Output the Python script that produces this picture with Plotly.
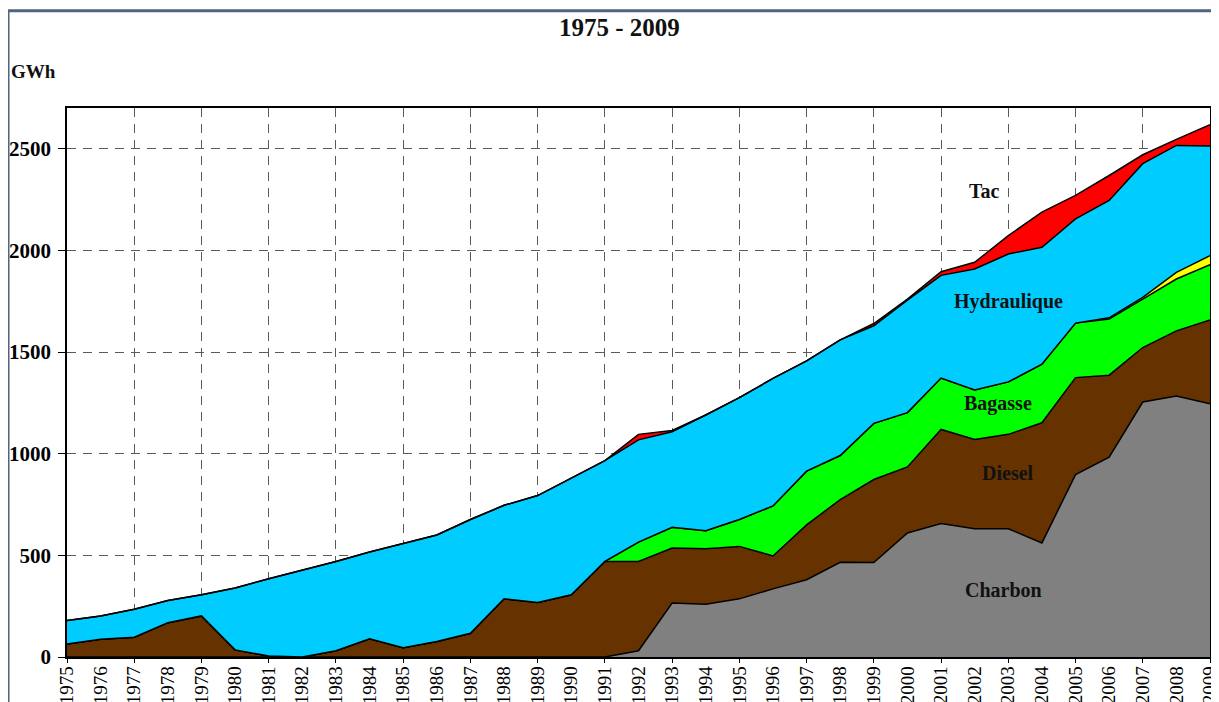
import plotly.graph_objs as go

# Production d'electricite par source, en GWh
years = list(range(1975, 2010))

charbon = [0, 0, 0, 0, 0, 0, 0, 0, 0, 0, 0, 0, 0, 0, 0, 0, 0,
           31, 265, 260, 286, 335, 380, 466, 465, 610, 656, 631, 631, 561, 897, 983, 1254, 1284, 1246]
diesel = [64, 87, 97, 169, 202, 35, 5, 0, 31, 90, 46, 76, 117, 286, 268, 306, 470,
          439, 271, 272, 258, 162, 270, 308, 408, 325, 463, 439, 464, 591, 477, 403, 268, 320, 412]
bagasse = [0, 0, 0, 0, 0, 0, 0, 0, 0, 0, 0, 0, 0, 0, 0, 0, 0,
           95, 102, 89, 132, 246, 264, 217, 276, 267, 253, 243, 258, 288, 268, 276, 238, 255, 272]
eolien_pv = [0, 0, 0, 0, 0, 0, 0, 0, 0, 0, 0, 0, 0, 0, 0, 0, 0,
             0, 0, 0, 0, 0, 0, 0, 0, 0, 0, 0, 0, 0, 0, 6, 9, 33, 44]
hydraulique = [115, 115, 138, 109, 104, 304, 380, 426, 439, 426, 512, 524, 559, 460, 526, 575, 496,
               503, 470, 569, 600, 627, 542, 569, 480, 553, 505, 595, 629, 575, 513, 577, 657, 624, 539]
tac = [0, 0, 0, 0, 0, 0, 0, 0, 0, 0, 0, 0, 0, 0, 0, 0, 0,
       27, 6, 0, 0, 0, 0, 0, 11, 5, 18, 33, 90, 173, 115, 123, 44, 30, 105]

series = [
    ('Charbon', charbon, '#808080'),
    ('Diesel', diesel, '#663300'),
    ('Bagasse', bagasse, '#00ff00'),
    ('Eolien / PV', eolien_pv, '#ffff00'),
    ('Hydraulique', hydraulique, '#00ccff'),
    ('Tac', tac, '#ff0000'),
]

# label positions (year, GWh) for the text written on the areas
labels = [
    ('Tac', 2002.3, 2290),
    ('Hydraulique', 2003.0, 1750),
    ('Bagasse', 2002.7, 1245),
    ('Diesel', 2003.0, 905),
    ('Charbon', 2002.85, 330),
]

serif = 'Liberation Serif'
grid = '#5a5a5a'

data = []
for name, values, color in series:
    trace = go.Scatter(x=years, y=values, name=name,
                       mode='lines', stackgroup='one',
                       line=dict(color='black', width=1.5),
                       fillcolor=color, hoverinfo='x+y+name')
    data.append(trace)

# the page body has an 8px margin, so the figure is a bit smaller than the window
layout = go.Layout(
    width=1211, height=694,
    margin=dict(l=59, r=9, t=100, b=45),
    paper_bgcolor='white', plot_bgcolor='white',
    showlegend=False,
    font=dict(family=serif, color='black'),
    xaxis=dict(range=[1975, 2009], tickmode='linear', tick0=1975, dtick=1,
               tickangle=-90, tickfont=dict(family=serif, size=19),
               ticklabelstandoff=0, ticklabeloverflow='allow',
               showgrid=False, ticks='', showline=True, linecolor='black',
               linewidth=1.5, mirror=True, automargin=False, zeroline=False),
    xaxis2=dict(range=[1975, 2009], overlaying='x', matches='x',
                tickmode='linear', tick0=1975, dtick=2,
                showticklabels=False, ticks='outside', ticklen=5,
                tickcolor='black', showgrid=True, gridcolor=grid,
                griddash='9px,7px', gridwidth=1, zeroline=False),
    yaxis=dict(range=[0, 2700], tickmode='linear', tick0=0, dtick=500,
               tickfont=dict(family=serif, size=21, weight='bold'),
               ticks='outside', ticklen=7, tickcolor='black',
               ticklabelstandoff=3,
               showgrid=True, gridcolor=grid, griddash='9px,7px', gridwidth=1,
               showline=True, linecolor='black', linewidth=1.5, mirror=True,
               zeroline=False, automargin=False),
    annotations=[dict(x=x, y=y, text='<b>%s</b>' % t, showarrow=False,
                      font=dict(family=serif, size=20, color='#111111'))
                 for t, x, y in labels] + [
        dict(text='<b>1975 - 2009</b>', xref='paper', yref='paper',
             x=0.483, y=1.1475, yanchor='middle', showarrow=False,
             font=dict(family=serif, size=25, color='#111111')),
        dict(text='<b>GWh</b>', xref='paper', yref='paper',
             x=-0.0505, y=1.0656, xanchor='left', yanchor='middle', showarrow=False,
             font=dict(family=serif, size=19, color='#111111')),
    ],
    shapes=[
        dict(type='line', xref='paper', yref='paper', x0=-0.0516, x1=1.01,
             y0=1.177, y1=1.177, line=dict(color='#4f6582', width=3)),
        dict(type='line', xref='paper', yref='paper', x0=-0.0516, x1=-0.0516,
             y0=1.177, y1=-0.1, line=dict(color='#4f6582', width=3)),
    ],
)

fig = go.Figure(data=data, layout=layout)
fig.add_trace(go.Scatter(x=[1975, 2009], y=[0, 0], xaxis='x2', mode='lines',
                         line=dict(width=0), hoverinfo='skip', showlegend=False))
fig.write_html('out.html')
